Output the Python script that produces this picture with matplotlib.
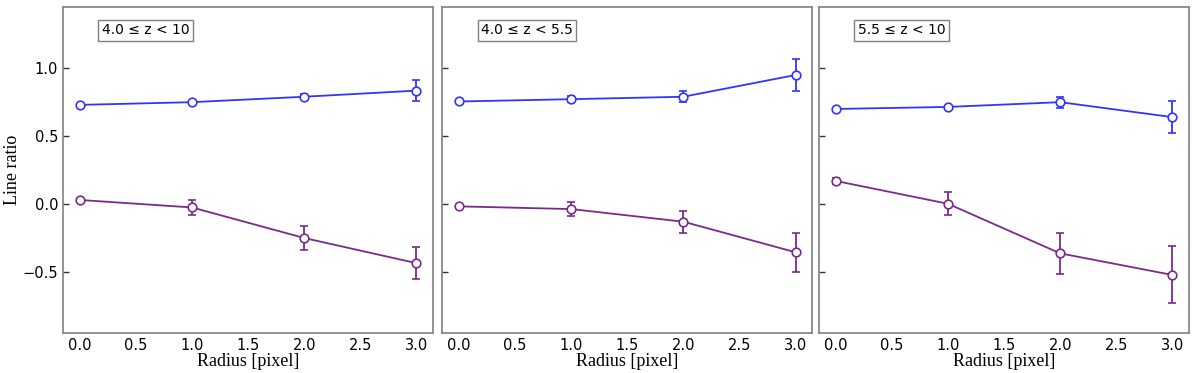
import matplotlib
matplotlib.use("Agg")
import matplotlib.pyplot as plt
import numpy as np

radius = [0.0, 1.0, 2.0, 3.0]
panel_labels = ["4.0 ≤ z < 10", "4.0 ≤ z < 5.5", "5.5 ≤ z < 10"]

blue_vals = [[0.73, 0.75, 0.79, 0.835],
             [0.755, 0.772, 0.79, 0.95],
             [0.70, 0.715, 0.75, 0.64]]
blue_errs = [[0.005, 0.01, 0.02, 0.08],
             [0.005, 0.02, 0.04, 0.12],
             [0.005, 0.01, 0.04, 0.12]]
purple_vals = [[0.03, -0.025, -0.25, -0.435],
               [-0.017, -0.037, -0.13, -0.355],
               [0.17, 0.002, -0.363, -0.522]]
purple_errs = [[0.005, 0.055, 0.09, 0.12],
               [0.005, 0.05, 0.08, 0.145],
               [0.02, 0.085, 0.15, 0.21]]

blue = "#3333ff"
purple = "#7b2a8c"
spine_col = "#808080"

fig = plt.figure(figsize=(12, 3.73), dpi=100)
lefts = [0.0525, 0.3685, 0.6825]
width = 0.3085
bottom, top = 0.107, 0.981
axes = []
for i in range(3):
    ax = fig.add_axes([lefts[i], bottom, width, top - bottom], sharey=axes[0] if axes else None)
    axes.append(ax)
    ax.errorbar(radius, blue_vals[i], yerr=blue_errs[i], color=blue, marker="o", ms=6.2,
                mfc="white", mec=blue, mew=1.2, lw=1.3, capsize=3, elinewidth=1.3, capthick=1.3, zorder=3)
    ax.errorbar(radius, purple_vals[i], yerr=purple_errs[i], color=purple, marker="o", ms=6.2,
                mfc="white", mec=purple, mew=1.2, lw=1.3, capsize=3, elinewidth=1.3, capthick=1.3, zorder=3)
    ax.set_xlim(-0.15, 3.15)
    ax.set_ylim(-0.95, 1.45)
    ax.set_xticks([0.0, 0.5, 1.0, 1.5, 2.0, 2.5, 3.0])
    ax.set_yticks([-0.5, 0.0, 0.5, 1.0])
    ax.tick_params(direction="in", length=4, width=1, color="#333333", labelsize=10.5,
                   top=False, right=False, bottom=False)
    for s in ax.spines.values():
        s.set_color(spine_col)
        s.set_linewidth(1.2)
    ax.set_xlabel("Radius [pixel]", family="Liberation Serif", fontsize=13, labelpad=0)
    ax.text(0.105, 0.929, panel_labels[i], transform=ax.transAxes, fontsize=10, va="center", ha="left",
            bbox=dict(boxstyle="square,pad=0.25", fc="white", ec=spine_col, lw=1))
    if i > 0:
        ax.tick_params(labelleft=False)
axes[0].set_ylabel("Line ratio", family="Liberation Serif", fontsize=13, labelpad=1)

fig.savefig("out.png", dpi=100)
